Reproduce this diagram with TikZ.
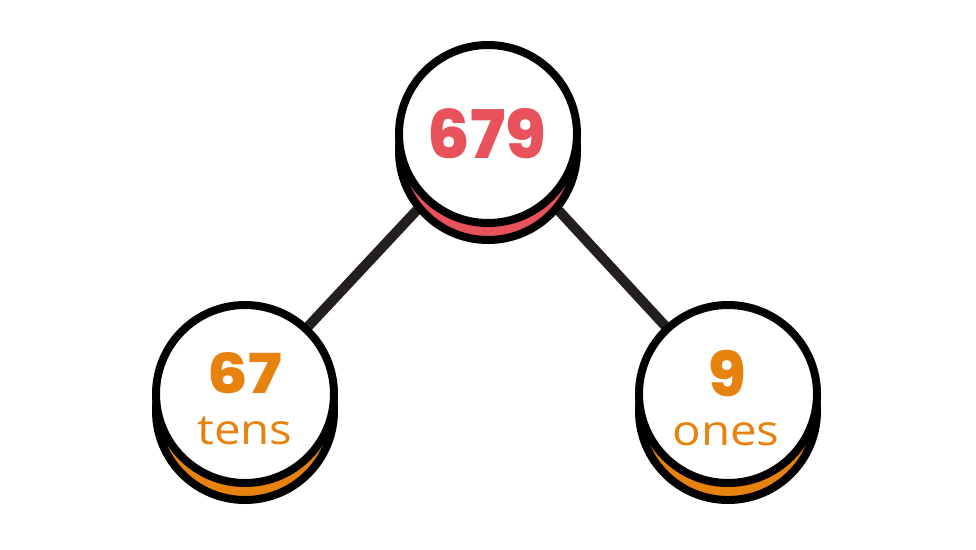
\documentclass[tikz,border=0pt]{standalone}
\usepackage{fontspec}
\setmainfont{Open Sans}
\newfontfamily\numfont{Poppins}[BoldFont={* ExtraBold}]
\definecolor{numred}{HTML}{E8525A}
\definecolor{numorange}{HTML}{E8820E}
\definecolor{linedark}{HTML}{231F20}
\begin{document}
\begin{tikzpicture}[x=1pt,y=-1pt,
  disc/.style={circle,draw=black,line width=8pt,fill=white,minimum size=178pt,inner sep=0pt},
  shadowdisc/.style={circle,draw=black,line width=8pt,minimum size=178pt,inner sep=0pt},
  link/.style={draw=linedark,line width=10pt},
  label text/.style={inner sep=0pt,anchor=base},
  bignum/.style={label text,font=\numfont\bfseries\fontsize{67}{67}\selectfont},
  midnum/.style={label text,font=\numfont\bfseries\fontsize{62}{62}\selectfont},
  word/.style={label text,font=\fontsize{42}{42}\selectfont,xscale=1.13}]
\useasboundingbox (0,0) rectangle (976,549);
% centres
\coordinate (ctop) at (488,134);
\coordinate (cleft) at (245,394);
\coordinate (cright) at (728,394);
% connectors
\draw[link] (ctop) -- (cleft);
\draw[link] (ctop) -- (cright);
% shadow discs
\node[shadowdisc,fill=numred] (stop) at (488,151) {};
\node[shadowdisc,fill=numorange] (sleft) at (245,411) {};
\node[shadowdisc,fill=numorange] (sright) at (728,411) {};
% main discs
\node[disc] (top) at (ctop) {};
\node[disc] (left) at (cleft) {};
\node[disc] (right) at (cright) {};
% texts
\node[bignum,text=numred] (t679) at (487,158) {679};
\node[midnum,text=numorange,yscale=0.86,font=\numfont\bfseries\fontsize{64}{64}\selectfont] (t67) at (245,393) {67};
\node[word,text=numorange] (ttens) at (245,444) {tens};
\node[midnum,text=numorange] (t9) at (727,396) {9};
\node[word,text=numorange] (tones) at (726,445) {ones};
\end{tikzpicture}
\end{document}
